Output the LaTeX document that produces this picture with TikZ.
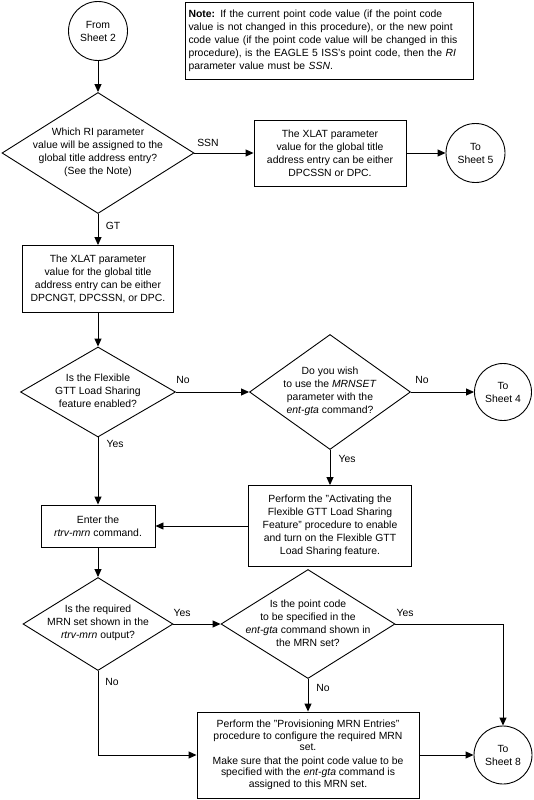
\documentclass[tikz,border=0pt]{standalone}
\usepackage{fontspec}
\setmainfont{Liberation Sans}
\usetikzlibrary{shapes.geometric,arrows.meta,calc}
\newcommand{\fsz}{\fontsize{10.4}{13}\selectfont}
\begin{document}
\begin{tikzpicture}[x=1pt,y=-1pt,
  every node/.style={font=\fsz},
  procbox/.style={draw, line width=0.9pt, rectangle, align=center, inner sep=0pt},
  decis/.style={draw, line width=0.9pt, diamond, inner sep=0pt},
  dtext/.style={align=center, inner sep=0pt},
  conn/.style={draw, line width=0.9pt, circle, minimum size=59, inner sep=0pt, align=center},
  lbl/.style={inner sep=0pt},
  arr/.style={line width=0.9pt, -{Triangle[length=8pt,width=7pt]}},
  ln/.style={line width=0.9pt}
]
\useasboundingbox (0,0) rectangle (533,800);

% top
\node[conn] (from) at (98,31) {From\\Sheet 2};
\node[procbox, minimum width=288, minimum height=77, text width=281, align=left] (note) at (329,40.5)
 {\textbf{Note:} If the current point code value (if the point code\\
  value is not changed in this procedure), or the new point\\
  code value (if the point code value will be changed in this\\
  procedure), is the EAGLE 5 ISS's point code, then the \textit{RI}\\
  parameter value must be \textit{SSN}.};

\node[decis, minimum width=192, minimum height=121] (d1) at (98,153) {};
\node[dtext] (d1t) at (98,152) {Which RI parameter\\value will be assigned to the\\global title address entry?\\(See the Note)};
\node[procbox, minimum width=152, minimum height=66] (x1) at (330,153) {The XLAT parameter\\value for the global title\\address entry can be either\\DPCSSN or DPC.};
\node[conn] (s5) at (475.5,153) {To\\Sheet 5};

\node[procbox, minimum width=151, minimum height=67] (x2) at (98,279) {The XLAT parameter\\value for the global title\\address entry can be either\\DPCNGT, DPCSSN, or DPC.};

\node[decis, minimum width=155, minimum height=90] (d2) at (98,392) {};
\node[dtext] (d2t) at (98,391) {Is the Flexible\\GTT Load Sharing\\feature enabled?};
\node[decis, minimum width=161, minimum height=115] (d3) at (330,392) {};
\node[dtext] (d3t) at (330,391) {Do you wish\\to use the \textit{MRNSET}\\parameter with the\\\textit{ent-gta} command?};
\node[conn, minimum size=57] (s4) at (503,392) {To\\Sheet 4};

\node[procbox, minimum width=114, minimum height=42] (en) at (98,526) {Enter the\\\textit{rtrv-mrn} command.};
\node[procbox, minimum width=163, minimum height=81] (p1) at (330,526) {Perform the "Activating the\\Flexible GTT Load Sharing\\Feature" procedure to enable\\and turn on the Flexible GTT\\Load Sharing feature.};

\node[decis, minimum width=150, minimum height=93] (d4) at (98,624) {};
\node[dtext] (d4t) at (98,623) {Is the required\\MRN set shown in the\\\textit{rtrv-mrn} output?};
\node[decis, minimum width=174, minimum height=109] (d5) at (308,624) {};
\node[dtext] (d5t) at (308,623) {Is the point code\\to be specified in the\\\textit{ent-gta} command shown in\\the MRN set?};

\node[procbox, minimum width=222, minimum height=86, font={\fontsize{10.4}{11.5}\selectfont}] (p2) at (308,755)
 {Perform the "Provisioning MRN Entries"\\procedure to configure the required MRN\\set.\\[2pt]Make sure that the point code value to be\\specified with the \textit{ent-gta} command is\\assigned to this MRN set.};
\node[conn, minimum size=58] (s8) at (503,755) {To\\Sheet 8};

% labels
\node[lbl] (lssn) at (208,143) {SSN};
\node[lbl] (lgt) at (113,226) {GT};
\node[lbl] (lno1) at (183,380) {No};
\node[lbl] (lno2) at (422,380) {No};
\node[lbl] (lyes1) at (115,444) {Yes};
\node[lbl] (lyes2) at (347,459) {Yes};
\node[lbl] (lyes3) at (182,613) {Yes};
\node[lbl] (lyes4) at (405,613) {Yes};
\node[lbl] (lno3) at (323,688) {No};
\node[lbl] (lno4) at (112,682) {No};

% connectors
\draw[arr] (from) -- (d1);
\draw[arr] (d1.east) -- (x1.west);
\draw[arr] (x1.east) -- (s5.west);
\draw[arr] (d1.south) -- (x2.north);
\draw[arr] (x2.south) -- (d2.north);
\draw[arr] (d2.east) -- (d3.west);
\draw[arr] (d3.east) -- (s4.west);
\draw[arr] (d2.south) -- (en.north);
\draw[arr] (d3.south) -- (p1.north);
\draw[arr] (p1.west) -- (en.east);
\draw[arr] (en.south) -- (d4.north);
\draw[arr] (d4.east) -- (d5.west);
\draw[arr] (d5.east) -| (s8.north);
\draw[arr] (d5.south) -- (p2.north);
\draw[arr] (d4.south) |- (p2.west);
\draw[arr] (p2.east) -- (s8.west);
\end{tikzpicture}
\end{document}
